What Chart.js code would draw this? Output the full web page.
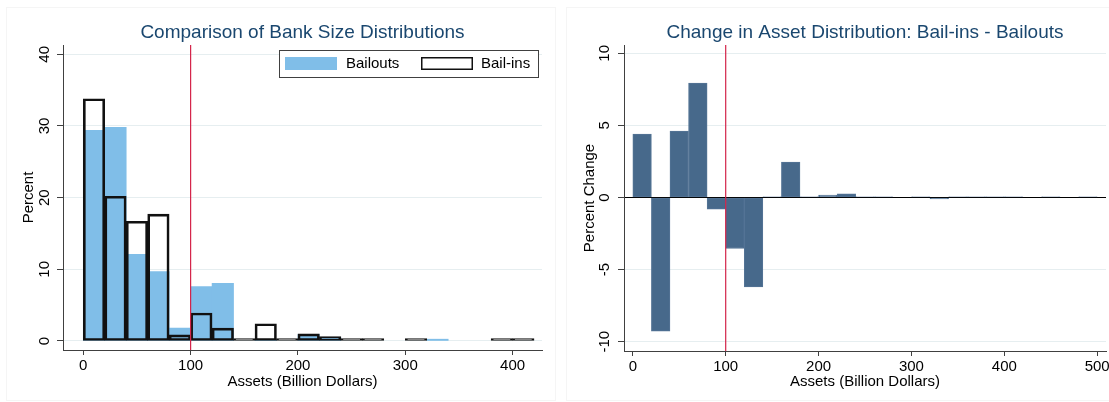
<!DOCTYPE html>
<html lang="en">
<head>
<meta charset="UTF-8" />
<title>Bank Size Distributions</title>
<script src="https://cdn.jsdelivr.net/npm/chart.js"></script>
<style>
  body { margin: 0; background: #fff; }
  .panel { position: absolute; top: 0; }
  .panel canvas { display: block; }
  .frame { position: absolute; border: 1px solid #f5f5f5; }
</style>
</head>
<body>
  <div class="frame" style="left:6px;top:7px;width:548px;height:392px"></div>
  <div class="frame" style="left:566px;top:7px;width:542px;height:392px"></div>
  <div class="panel" style="left:0"><canvas id="sizeChart" width="555" height="402"></canvas></div>
  <div class="panel" style="left:555px"><canvas id="changeChart" width="554" height="402"></canvas></div>

<script>
// bin mid-points (20bn wide bins)
const leftBins = [10, 30, 50, 70, 90, 110, 130, 150, 170, 190, 210, 230, 250, 270, 290, 310, 330, 350, 370, 390, 410];
const bailouts = [29.4, 29.8, 12.1, 9.7, 1.8, 7.6, 8.05, null, 0.15, null, 0.9, 0.5, null, null, null, null, 0.25, null, null, null, null];
const bailins  = [33.8, 20.2, 16.7, 17.7, 0.85, 3.9, 1.8, 0.35, 2.4, 0.35, 1.0, 0.6, 0.35, 0.35, null, 0.35, null, null, null, 0.35, 0.35];

const rightBins = [10, 30, 50, 70, 90, 110, 130, 150, 170, 190, 210, 230, 250, 270, 290, 310, 330, 350, 370, 390, 410, 430, 450, 470, 490];
const change = [4.4, -9.27, 4.6, 7.94, -0.81, -3.54, -6.2, 0.05, 2.46, 0.05, 0.17, 0.25, 0.05, 0.05, null, 0.05, -0.1, 0.05, 0.05, 0.05, 0.05, null, 0.05, null, 0.05];

const leftXTicks = [0, 100, 200, 300, 400];
const leftYTicks = [0, 10, 20, 30, 40];
const rightXTicks = [0, 100, 200, 300, 400, 500];
const rightYTicks = [-10, -5, 0, 5, 10];
const cutoff = 100;

const axisColor = '#404040';
const gridPale = '#e6eef0';
const fontFamily = '"Liberation Sans", Arial, sans-serif';
Chart.defaults.font.family = fontFamily;
Chart.defaults.font.size = 15;

// stata-like vertical y tick labels
const yTickPlugin = {
  id: 'rotatedYTicks',
  afterDraw(chart, args, opts) {
    const { ctx, chartArea } = chart;
    const y = chart.scales.y;
    ctx.save();
    ctx.font = '15px ' + fontFamily;
    ctx.fillStyle = '#000';
    ctx.textAlign = 'center';
    ctx.textBaseline = 'middle';
    y.ticks.forEach(t => {
      ctx.save();
      ctx.translate(chartArea.left - opts.gap, y.getPixelForValue(t.value));
      ctx.rotate(-Math.PI / 2);
      ctx.fillText(String(t.value), 0, 0);
      ctx.restore();
    });
    ctx.restore();
  }
};

const titlePlugin = {
  id: 'panelTitle',
  afterDraw(chart, args, opts) {
    const { ctx, chartArea } = chart;
    ctx.save();
    ctx.font = '19px ' + fontFamily;
    ctx.fillStyle = '#1a476f';
    ctx.textAlign = 'center';
    ctx.textBaseline = 'middle';
    ctx.fillText(opts.text, (chartArea.left + chartArea.right) / 2, 33);
    ctx.restore();
  }
};

const cutoffPlugin = {
  id: 'cutoffLine',
  afterDatasetsDraw(chart, args, opts) {
    const { ctx, chartArea } = chart;
    const x = chart.scales.x.getPixelForValue(opts.value);
    ctx.save();
    ctx.strokeStyle = '#d4254a';
    ctx.lineWidth = 1.2;
    ctx.beginPath();
    ctx.moveTo(x, chartArea.top);
    ctx.lineTo(x, chartArea.bottom);
    ctx.stroke();
    ctx.restore();
  }
};

const legendPlugin = {
  id: 'boxLegend',
  afterDraw(chart) {
    const { ctx, chartArea } = chart;
    const w = 259, h = 27;
    const right = chartArea.right - 4, top = chartArea.top + 5, left = right - w;
    const outs = chart.data.datasets.find(d => d.label === 'Bailouts');
    const ins = chart.data.datasets.find(d => d.label === 'Bail-ins');
    ctx.save();
    ctx.fillStyle = '#fff';
    ctx.fillRect(left, top, w, h);
    ctx.strokeStyle = axisColor;
    ctx.lineWidth = 1;
    ctx.strokeRect(left + 0.5, top + 0.5, w, h);

    ctx.fillStyle = outs.backgroundColor;
    ctx.fillRect(left + 6, top + 7, 52, 13);
    ctx.fillStyle = '#fff';
    ctx.fillRect(left + 142, top + 7, 52, 13);
    ctx.strokeStyle = ins.borderColor;
    ctx.lineWidth = 1.5;
    ctx.strokeRect(left + 142.75, top + 7.75, 50.5, 11.5);

    ctx.fillStyle = '#000';
    ctx.font = '15px ' + fontFamily;
    ctx.textBaseline = 'middle';
    ctx.fillText(outs.label, left + 67, top + 14);
    ctx.fillText(ins.label, left + 202, top + 14);
    ctx.restore();
  }
};

function xAxis(min, max, ticks, height) {
  return {
    type: 'linear',
    min: min,
    max: max,
    offset: false,
    afterBuildTicks: s => { s.ticks = ticks.map(v => ({ value: v })); },
    afterFit: s => { s.height = height; s.paddingLeft = 0; s.paddingRight = 0; },
    grid: { drawOnChartArea: false, drawTicks: true, tickLength: 5, tickColor: axisColor, offset: false },
    border: { color: axisColor, width: 1 },
    ticks: { color: '#000', padding: 2, maxRotation: 0, minRotation: 0 },
    title: { display: true, text: 'Assets (Billion Dollars)', color: '#000', padding: { top: 0, bottom: 11 } }
  };
}

function yAxis(min, max, ticks, width, label, titlePad, gridColor) {
  return {
    min: min,
    max: max,
    afterBuildTicks: s => { s.ticks = ticks.map(v => ({ value: v })); },
    afterFit: s => { s.width = width; },
    grid: { color: gridColor, tickColor: axisColor, tickLength: 6, lineWidth: 1 },
    border: { color: axisColor, width: 1 },
    ticks: { display: false },
    title: { display: true, text: label, color: '#000', padding: { top: titlePad, bottom: 0 } }
  };
}

const barBase = { grouped: false, barPercentage: 1, categoryPercentage: 1 };

new Chart(document.getElementById('sizeChart'), {
  type: 'bar',
  data: {
    datasets: [
      Object.assign({
        label: 'Bail-ins',
        data: leftBins.map((x, i) => ({ x: x, y: bailins[i] })),
        backgroundColor: 'rgba(0,0,0,0)',
        borderColor: '#111111',
        borderWidth: 2,
        borderSkipped: false
      }, barBase),
      Object.assign({
        label: 'Bailouts',
        data: leftBins.map((x, i) => ({ x: x, y: bailouts[i] })),
        backgroundColor: '#80bee8',
        borderWidth: 0
      }, barBase)
    ]
  },
  options: {
    responsive: false,
    animation: false,
    layout: { padding: { top: 45, right: 13, left: 0, bottom: 0 } },
    plugins: {
      legend: { display: false },
      tooltip: { enabled: false },
      panelTitle: { text: 'Comparison of Bank Size Distributions' },
      cutoffLine: { value: cutoff },
      rotatedYTicks: { gap: 18 }
    },
    scales: {
      x: xAxis(-18.9, 427.4, leftXTicks, 52),
      y: yAxis(-1.26, 41.3, leftYTicks, 63, 'Percent', 20, gridPale)
    }
  },
  plugins: [titlePlugin, cutoffPlugin, legendPlugin, yTickPlugin]
});

new Chart(document.getElementById('changeChart'), {
  type: 'bar',
  data: {
    datasets: [
      Object.assign({
        label: 'Change',
        data: rightBins.map((x, i) => ({ x: x, y: change[i] })),
        backgroundColor: '#47698b',
        borderColor: '#557596',
        borderWidth: 1,
        borderSkipped: false
      }, barBase)
    ]
  },
  options: {
    responsive: false,
    animation: false,
    layout: { padding: { top: 45, right: 3, left: 0, bottom: 0 } },
    plugins: {
      legend: { display: false },
      tooltip: { enabled: false },
      panelTitle: { text: 'Change in Asset Distribution: Bail-ins - Bailouts' },
      cutoffLine: { value: cutoff },
      rotatedYTicks: { gap: 19 }
    },
    scales: {
      x: xAxis(-9.5, 509.5, rightXTicks, 51),
      y: yAxis(-10.65, 10.58, rightYTicks, 69, 'Percent Change', 26,
        c => (c.tick && c.tick.value === 0 ? '#000000' : gridPale))
    }
  },
  plugins: [titlePlugin, cutoffPlugin, yTickPlugin]
});
</script>
</body>
</html>
